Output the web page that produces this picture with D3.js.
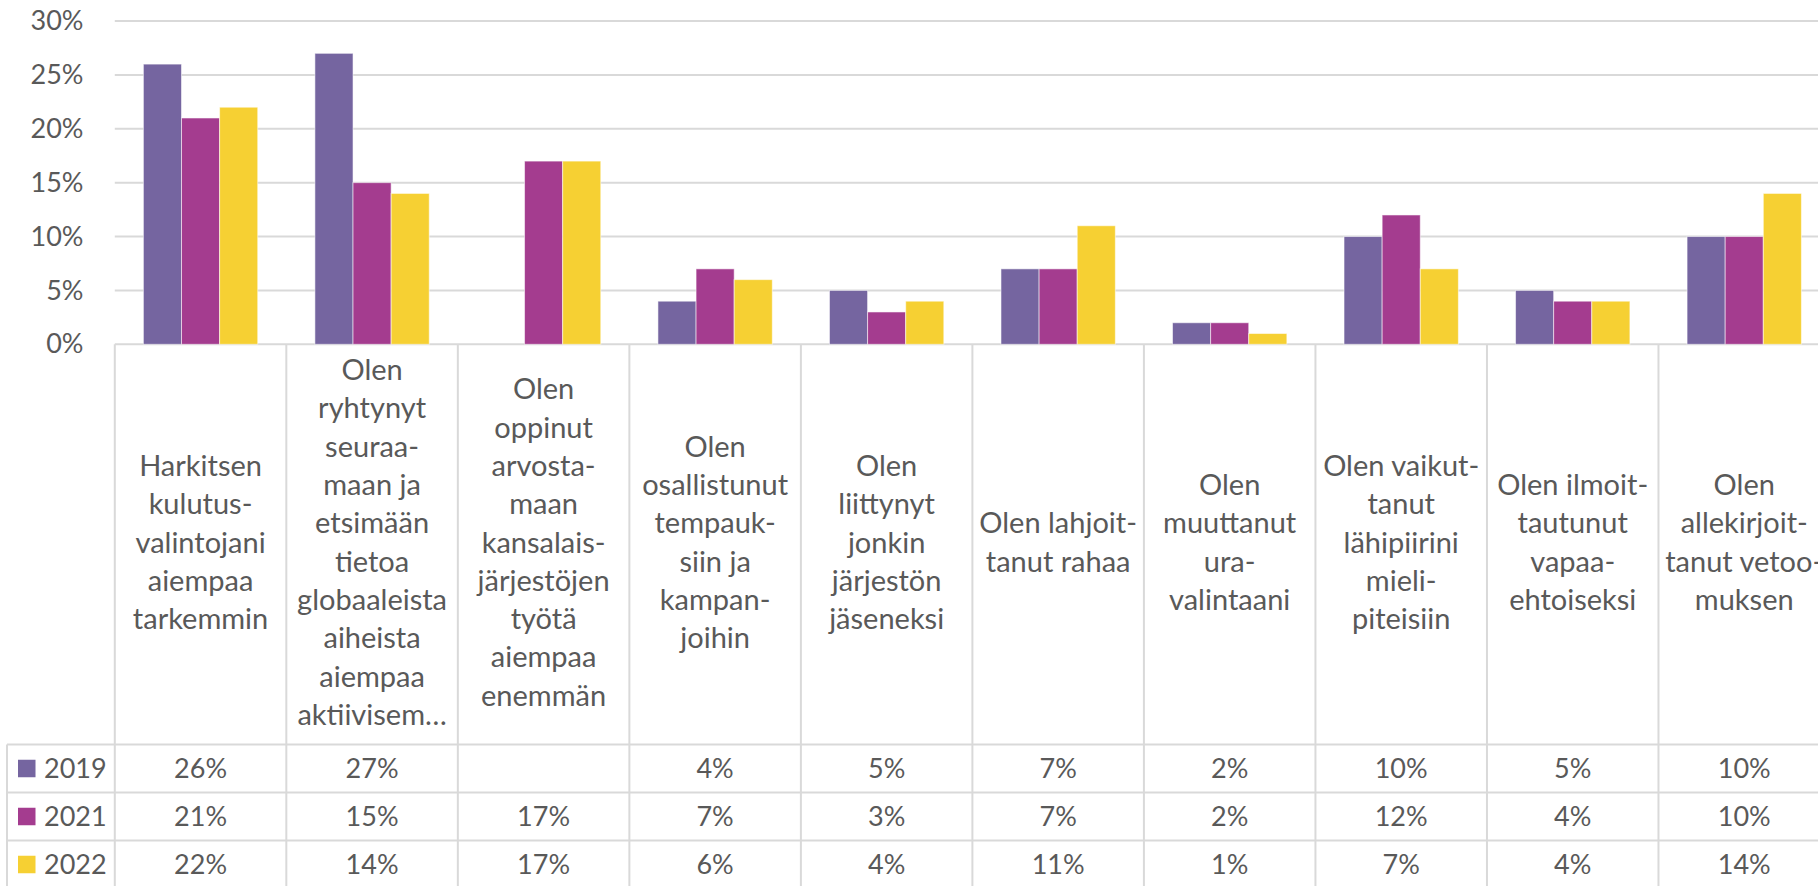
<!DOCTYPE html>
<html>
<head>
<meta charset="utf-8">
<script src="https://cdn.jsdelivr.net/npm/d3@7"></script>
<style>
  body { margin: 0; background: #ffffff; overflow: hidden; }
  svg text { font-family: Lato, "Open Sans", sans-serif; fill: #595959; }
</style>
</head>
<body>
<svg id="chart" width="1818" height="886"></svg>
<script>
// ---------- data ----------
const categoryLines = [
  ["Harkitsen", "kulutus-", "valintojani", "aiempaa", "tarkemmin"],
  ["Olen", "ryhtynyt", "seuraa-", "maan ja", "etsimään", "tietoa", "globaaleista", "aiheista", "aiempaa", "aktiivisem…"],
  ["Olen", "oppinut", "arvosta-", "maan", "kansalais-", "järjestöjen", "työtä", "aiempaa", "enemmän"],
  ["Olen", "osallistunut", "tempauk-", "siin ja", "kampan-", "joihin"],
  ["Olen", "liittynyt", "jonkin", "järjestön", "jäseneksi"],
  ["Olen lahjoit-", "tanut rahaa"],
  ["Olen", "muuttanut", "ura-", "valintaani"],
  ["Olen vaikut-", "tanut", "lähipiirini", "mieli-", "piteisiin"],
  ["Olen ilmoit-", "tautunut", "vapaa-", "ehtoiseksi"],
  ["Olen", "allekirjoit-", "tanut vetoo-", "muksen"]
];
const seriesNames = ["2019", "2021", "2022"];
const values2019 = [26, 27, null, 4, 5, 7, 2, 10, 5, 10];
const values2021 = [21, 15, 17, 7, 3, 7, 2, 12, 4, 10];
const values2022 = [22, 14, 17, 6, 4, 11, 1, 7, 4, 14];
const seriesColors = ["#7565A0", "#A43C8F", "#F6D033"];
const yTickValues = [0, 5, 10, 15, 20, 25, 30];

const seriesValues = [values2019, values2021, values2022];

// ---------- layout ----------
const W = 1818, H = 886;
const plotLeft = 114.8, plotRight = 1830, plotTop = 21, plotBottom = 344.3;
const tableTop = 744.5, rowH = 48, legendLeft = 7;
const lineGap = 38.3, labelMid = 552.5;
const fontSize = 27, labelFontSize = 29;
const gridColor = "#D9D9D9";

const svg = d3.select("#chart");

const idx = d3.range(categoryLines.length);
const x = d3.scaleBand().domain(idx).range([plotLeft, plotRight]).paddingInner(0).paddingOuter(0);
const x1 = d3.scaleBand().domain(d3.range(seriesNames.length)).range([0, x.bandwidth()]).paddingInner(0).paddingOuter(0.75);
const y = d3.scaleLinear().domain([0, 30]).range([plotBottom, plotTop]);

// gridlines
svg.append("g").selectAll("line").data(yTickValues).join("line")
  .attr("x1", plotLeft).attr("x2", W)
  .attr("y1", d => y(d)).attr("y2", d => y(d))
  .attr("stroke", gridColor).attr("stroke-width", 2);

// y axis labels
const yAxis = d3.axisLeft(y).tickValues(yTickValues).tickSize(0).tickPadding(0)
  .tickFormat(d => d + "%");
const yg = svg.append("g").attr("transform", `translate(${83.5},0)`).call(yAxis);
yg.select(".domain").remove();
yg.selectAll("text").attr("font-size", fontSize).attr("fill", "#595959")
  .style("font-family", "Lato, 'Open Sans', sans-serif");

// bars
const barData = [];
seriesValues.forEach((vals, s) => vals.forEach((v, i) => { if (v != null) barData.push({ s, i, v }); }));
svg.append("g").selectAll("rect").data(barData).join("rect")
  .attr("x", d => x(d.i) + x1(d.s))
  .attr("width", x1.bandwidth())
  .attr("y", d => y(d.v))
  .attr("height", d => y(0) - y(d.v))
  .attr("fill", d => seriesColors[d.s])
  .attr("stroke", "rgba(255,255,255,0.55)")
  .attr("stroke-width", 1);

// vertical dividers (category area + table)
const dividers = idx.map(i => x(i)).concat([x(idx.length - 1) + x.bandwidth()]);
svg.append("g").selectAll("line").data(dividers).join("line")
  .attr("x1", d => d).attr("x2", d => d)
  .attr("y1", plotBottom).attr("y2", H + 5)
  .attr("stroke", gridColor).attr("stroke-width", 2);

// legend column left border
svg.append("line").attr("x1", legendLeft).attr("x2", legendLeft)
  .attr("y1", tableTop).attr("y2", H + 5)
  .attr("stroke", gridColor).attr("stroke-width", 2);

// table horizontal lines
svg.append("g").selectAll("line").data(d3.range(seriesNames.length + 1)).join("line")
  .attr("x1", legendLeft).attr("x2", W)
  .attr("y1", d => tableTop + d * rowH).attr("y2", d => tableTop + d * rowH)
  .attr("stroke", gridColor).attr("stroke-width", 2);

// category labels
const lab = svg.append("g");
categoryLines.forEach((lines, i) => {
  const cx = x(i) + x.bandwidth() / 2;
  const t = lab.append("text").attr("text-anchor", "middle").attr("font-size", labelFontSize);
  lines.forEach((ln, k) => {
    t.append("tspan").attr("x", cx)
      .attr("y", labelMid + (k - (lines.length - 1) / 2) * lineGap)
      .text(ln);
  });
});

// table values + legend
seriesNames.forEach((name, s) => {
  const rc = tableTop + s * rowH + rowH / 2;
  svg.append("rect").attr("x", 18).attr("y", rc - 8.75).attr("width", 17.5).attr("height", 17.5)
    .attr("fill", seriesColors[s]);
  svg.append("text").attr("x", 44).attr("y", rc).attr("dy", "0.35em")
    .attr("font-size", fontSize).text(name);
  svg.append("g").selectAll("text").data(seriesValues[s]).join("text")
    .attr("x", (d, i) => x(i) + x.bandwidth() / 2)
    .attr("y", rc).attr("dy", "0.35em")
    .attr("text-anchor", "middle").attr("font-size", fontSize)
    .text(d => d == null ? "" : d + "%");
});
</script>
</body>
</html>
